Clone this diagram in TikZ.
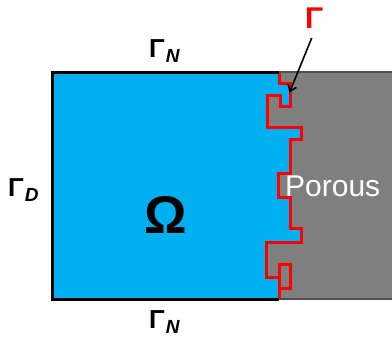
\documentclass[tikz,border=0pt]{standalone}
\usepackage{fontspec}
\setmainfont{Liberation Sans}
\usetikzlibrary{arrows.meta}
\definecolor{domblue}{HTML}{00B0F0}
\definecolor{porgray}{HTML}{7F7F7F}
\definecolor{poredge}{HTML}{505050}
\definecolor{ifred}{HTML}{FF0000}
\tikzset{
  ifline/.style={draw=ifred, line width=3pt, line join=miter},
  bdline/.style={draw=black, line width=3pt},
  gline/.style={draw=poredge, line width=1.4pt},
  lbl/.style={inner sep=0pt, anchor=base west, font=\bfseries\fontsize{26}{30}\selectfont},
}
\newcommand{\subN}[1]{\kern1pt\raisebox{-5pt}{\fontsize{19}{19}\selectfont\bfseries\itshape #1}}
\begin{document}
\begin{tikzpicture}[x=1pt,y=-1pt]
\useasboundingbox (0,0) rectangle (392,338);
% porous region
\fill[porgray] (266,72) rectangle (395,299);
\draw[gline] (279,72) -- (395,72);
\draw[gline] (279,299) -- (395,299);
% fluid domain
\fill[domblue] (52,72) -- (279.3,72) -- (279.3,83) -- (290,83) -- (290,106) -- (280.5,106) -- (280.5,95) -- (267,95) -- (267,127.5) -- (301.7,127.5) -- (301.7,139.3) -- (290,139.3) -- (290,173.3) -- (278.3,173.3) -- (278.3,197.3) -- (290,197.3) -- (290,228.3) -- (301.7,228.3) -- (301.7,242.3) -- (266.7,242.3) -- (266.7,277) -- (279.3,277) -- (279.3,299) -- (52,299) -- cycle;
% interface
\draw[ifline] (279.3,72) -- (279.3,83) -- (290,83) -- (290,106) -- (280.5,106) -- (280.5,95) -- (267,95) -- (267,127.5) -- (301.7,127.5) -- (301.7,139.3) -- (290,139.3) -- (290,173.3) -- (278.3,173.3) -- (278.3,197.3) -- (290,197.3) -- (290,228.3) -- (301.7,228.3) -- (301.7,242.3) -- (266.7,242.3) -- (266.7,277) -- (279.3,277) -- (279.3,299);
\draw[ifline] (279.3,264.3) rectangle (290,288);
% domain boundary
\draw[bdline] (279,72) -- (52,72) -- (52,299) -- (279,299);
% labels
\node[lbl] (gnt) at (149,57) {Γ\subN{N}};
\node[lbl] (gnb) at (149,328.5) {Γ\subN{N}};
\node[lbl] (gd) at (8,196) {Γ\subN{D}};
\node[inner sep=0pt, anchor=base, font=\bfseries\fontsize{53}{60}\selectfont] (om) at (166,233) {Ω};
\node[inner sep=0pt, anchor=base west, text=white, font=\fontsize{30}{36}\selectfont] (por) at (285,196) {Porous};
\node[inner sep=0pt, anchor=base west, text=ifred, font=\bfseries\fontsize{30}{34}\selectfont] (gam) at (305,28.5) {Γ};
\coordinate (as) at (311.7,38);
\coordinate (at) at (289.5,92.5);
\draw[line width=1.6pt, -{Straight Barb[length=6pt,width=9pt]}] (as) -- (at);
\end{tikzpicture}
\end{document}
